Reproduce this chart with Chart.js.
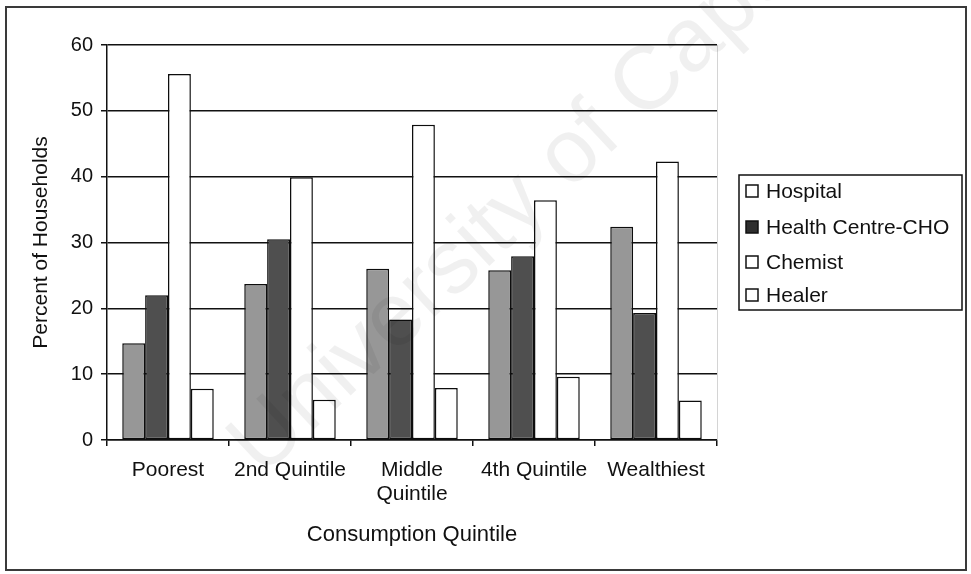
<!DOCTYPE html>
<html>
<head>
<meta charset="utf-8">
<script src="https://cdn.jsdelivr.net/npm/chart.js@4/dist/chart.umd.min.js"></script>
<style>
  html, body { margin: 0; padding: 0; background: #ffffff; }
  canvas { display: block; }
</style>
</head>
<body>
<canvas id="chart" width="971" height="574"></canvas>
<script>
// Where households sought care, by consumption quintile (percent of households)
const quintiles = ['Poorest', '2nd Quintile', ['Middle', 'Quintile'], '4th Quintile', 'Wealthiest'];
const seriesNames = ['Hospital', 'Health Centre-CHO', 'Chemist', 'Healer'];
const hospital = [14.7, 23.7, 26.0, 25.8, 32.4];
const healthCentre = [22.0, 30.5, 18.3, 27.9, 19.3];
const chemist = [55.6, 39.9, 47.9, 36.4, 42.3];
const healer = [7.8, 6.1, 7.9, 9.6, 6.0];
const yTicks = [0, 10, 20, 30, 40, 50, 60];

const FONT = '"Liberation Sans", Arial, sans-serif';

// Frame, boxed legend and the faint background lettering
const decorations = {
  id: 'decorations',
  beforeDraw(chart) {
    const ctx = chart.ctx;
    ctx.save();
    ctx.fillStyle = '#ffffff';
    ctx.fillRect(0, 0, chart.width, chart.height);
    ctx.restore();
  },
  afterDraw(chart) {
    const ctx = chart.ctx;
    ctx.save();

    // outer frame
    ctx.strokeStyle = '#3a3a3a';
    ctx.lineWidth = 2;
    ctx.strokeRect(6, 7, 960, 563);

    // faint right edge of the plot area
    const a = chart.chartArea;
    ctx.strokeStyle = '#d4d4d4';
    ctx.lineWidth = 1;
    ctx.beginPath();
    ctx.moveTo(a.right + 0.5, a.top);
    ctx.lineTo(a.right + 0.5, a.bottom);
    ctx.stroke();

    // legend box
    const lx = 739, ly = 175, lw = 223, lh = 135;
    ctx.fillStyle = '#ffffff';
    ctx.fillRect(lx, ly, lw, lh);
    ctx.strokeStyle = '#111111';
    ctx.lineWidth = 1.5;
    ctx.strokeRect(lx, ly, lw, lh);

    const swatches = ['#ffffff', '#2e2e2e', '#ffffff', '#ffffff'];
    const rows = [191, 227, 262, 295];
    ctx.font = '21px ' + FONT;
    ctx.textBaseline = 'middle';
    ctx.textAlign = 'left';
    chart.data.datasets.forEach((ds, i) => {
      const y = rows[i];
      ctx.fillStyle = swatches[i];
      ctx.fillRect(746, y - 6, 12, 12);
      ctx.strokeStyle = '#111111';
      ctx.lineWidth = 1.5;
      ctx.strokeRect(746, y - 6, 12, 12);
      ctx.fillStyle = '#111111';
      ctx.fillText(ds.label, 766, y + 1);
    });

    // background lettering
    ctx.translate(262, 478);
    ctx.rotate(-43 * Math.PI / 180);
    ctx.font = '90px ' + FONT;
    ctx.fillStyle = 'rgba(0,0,0,0.06)';
    ctx.textBaseline = 'alphabetic';
    ctx.fillText('University of Cape Town', 0, 0);

    ctx.restore();
  }
};

const barStyle = { borderColor: '#0d0d0d', borderWidth: 1.5, borderSkipped: false };

new Chart(document.getElementById('chart'), {
  type: 'bar',
  data: {
    labels: quintiles,
    datasets: [
      { label: seriesNames[0], data: hospital, backgroundColor: '#979797', ...barStyle },
      { label: seriesNames[1], data: healthCentre, backgroundColor: '#4f4f4f', ...barStyle },
      { label: seriesNames[2], data: chemist, backgroundColor: '#ffffff', ...barStyle },
      { label: seriesNames[3], data: healer, backgroundColor: '#ffffff', ...barStyle }
    ]
  },
  options: {
    responsive: false,
    animation: false,
    devicePixelRatio: 1,
    layout: { padding: { left: 8, top: 45, right: 254, bottom: 0 } },
    datasets: { bar: { categoryPercentage: 0.75, barPercentage: 1.0 } },
    plugins: {
      legend: { display: false },
      tooltip: { enabled: false }
    },
    scales: {
      x: {
        grid: { display: true, drawOnChartArea: false, drawTicks: true, tickLength: 6, color: '#111111', lineWidth: 1.5, offset: true },
        border: { display: true, color: '#111111', width: 1.5 },
        ticks: { color: '#111111', font: { family: FONT, size: 21, lineHeight: 1.15 }, padding: 12, maxRotation: 0, autoSkip: false },
        title: { display: true, text: 'Consumption Quintile', color: '#111111', font: { family: FONT, size: 22 }, padding: { top: 0, bottom: 26 } },
        afterFit(scale) { scale.height = 134; }
      },
      y: {
        min: 0,
        max: 60,
        afterBuildTicks(scale) { scale.ticks = yTicks.map(v => ({ value: v })); },
        grid: { color: '#111111', lineWidth: 1.5, drawTicks: true, tickLength: 6 },
        border: { display: true, color: '#111111', width: 1.5 },
        ticks: { color: '#111111', font: { family: FONT, size: 20 }, padding: 8 },
        title: { display: true, text: 'Percent of Households', color: '#111111', font: { family: FONT, size: 21 }, padding: { top: 21, bottom: 0 } },
        afterFit(scale) { scale.width = 99; }
      }
    }
  },
  plugins: [decorations]
});
</script>
</body>
</html>
